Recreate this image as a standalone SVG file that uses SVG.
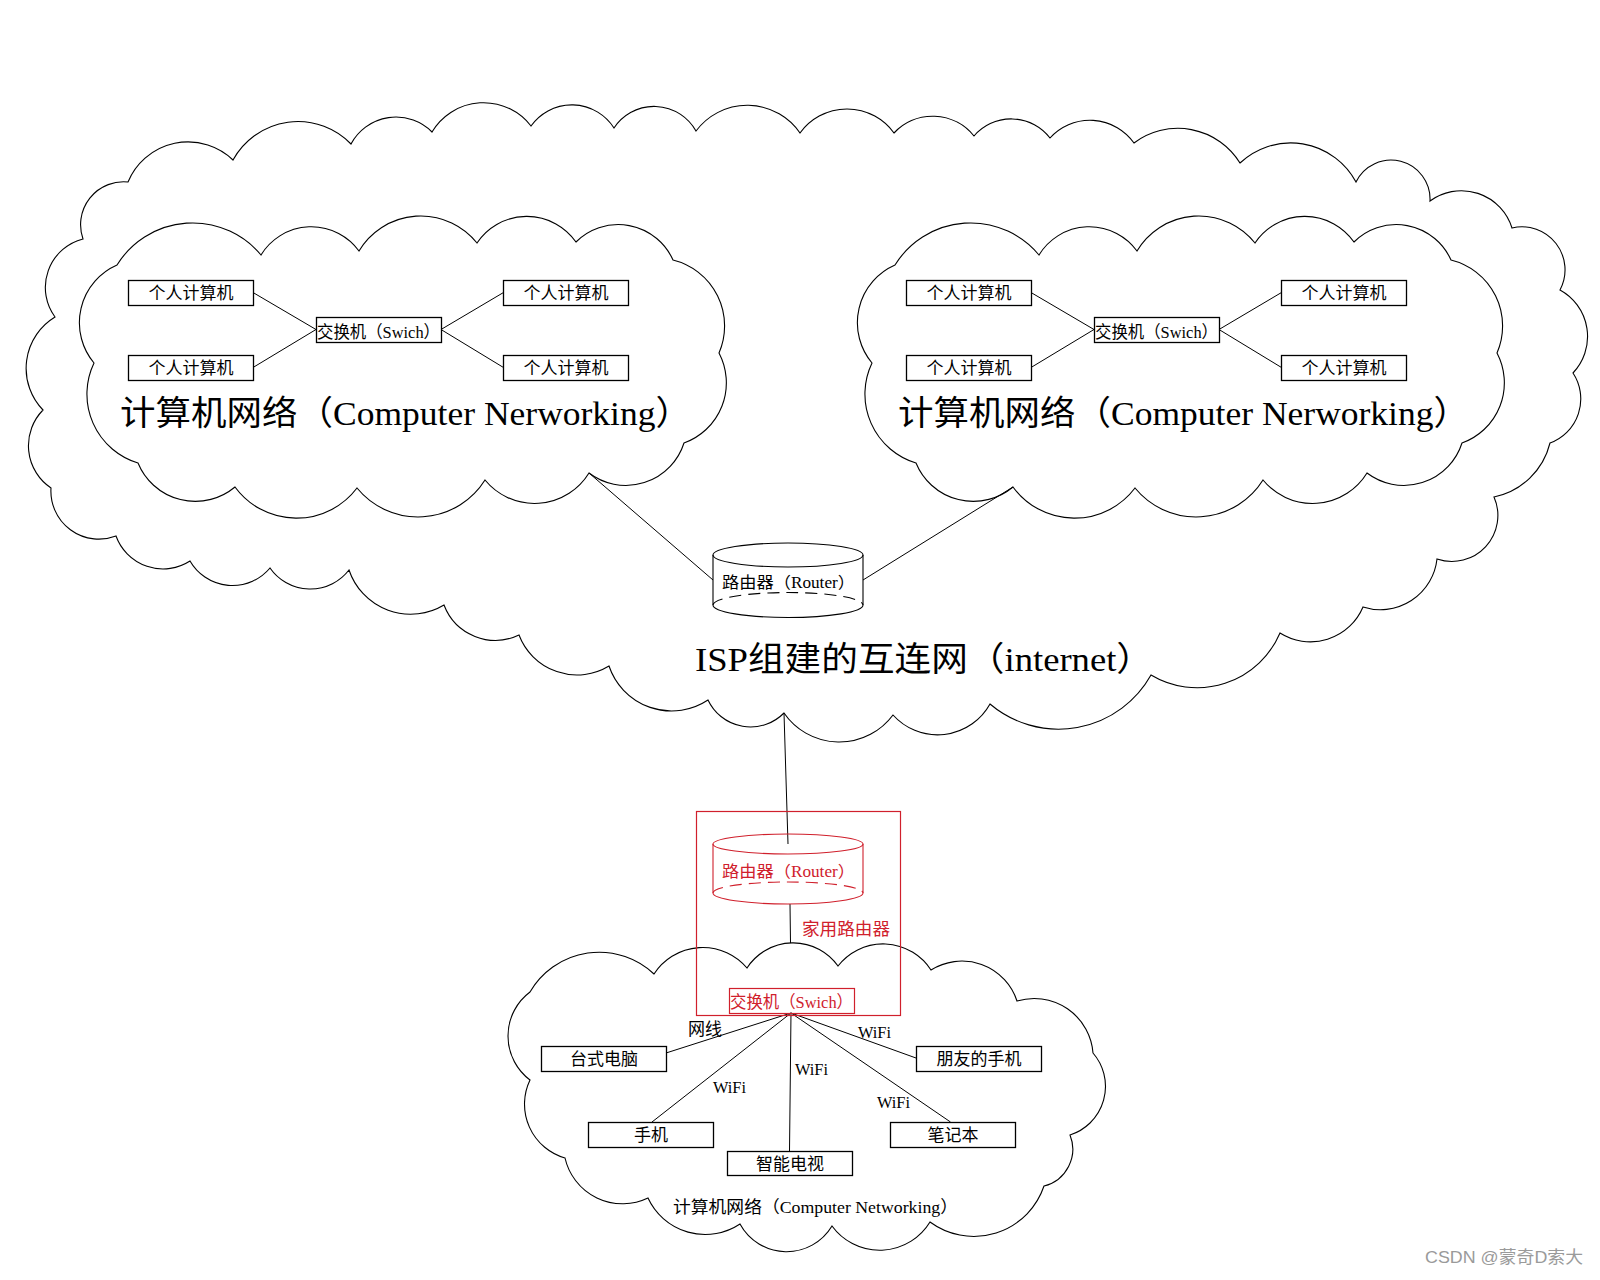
<svg xmlns="http://www.w3.org/2000/svg" width="1600" height="1280" viewBox="0 0 1600 1280">
<style>
.cloud{fill:none;stroke:#000;stroke-width:1.1}
.ln{fill:none;stroke:#000;stroke-width:1}
.box{fill:#fff;stroke:#000;stroke-width:1.3}
.rbox{fill:none;stroke:#d0202c;stroke-width:1.2}
.cyl{fill:none;stroke:#000;stroke-width:1.1}
.rcyl{fill:none;stroke:#d0202c;stroke-width:1.1}
.dash{stroke-dasharray:12 7}
.t{font-family:"Liberation Serif","Noto Sans CJK SC",serif;fill:#000}
.s{font-size:17px;text-anchor:middle}
.big{font-size:34px}
.red{fill:#d0202c}
.wm{font-family:"Liberation Sans","Noto Sans CJK SC",sans-serif;font-size:17px;fill:#9a9a9a}
</style>
<defs>
<path id="lanCloud" d="M117,265 A89,89 0 0 1 261,255 A59,59 0 0 1 359,251 A72,72 0 0 1 477,243 A60,60 0 0 1 576,242 A60,60 0 0 1 673,260 A68,68 0 0 1 719,353 A64,64 0 0 1 684,443 A61,61 0 0 1 589,473 A64,64 0 0 1 485,480 A79,79 0 0 1 357,488 A76,76 0 0 1 235,487 A62,62 0 0 1 138,463 A72,72 0 0 1 94,363 A63,63 0 0 1 117,265 Z"/>
</defs>
<rect width="1600" height="1280" fill="#fff"/>

<g id="isp-cloud">
<path class="cloud" d="M128,182 A65,65 0 0 1 233,160 A74,74 0 0 1 351,144 A51,51 0 0 1 432,132 A60,60 0 0 1 531,126 A50,50 0 0 1 614,128 A48,48 0 0 1 696,131 A64,64 0 0 1 800,133 A58,58 0 0 1 894,133 A53,53 0 0 1 974,136 A49,49 0 0 1 1050,138 A54,54 0 0 1 1134,143 A73,73 0 0 1 1240,163 A74,74 0 0 1 1356,182 A39,39 0 0 1 1430,201 A53,53 0 0 1 1512,228 A43,43 0 0 1 1560,290 A53,53 0 0 1 1573,373 A47,47 0 0 1 1550,443 A73,73 0 0 1 1494,497 A46,46 0 0 1 1437,559 A57,57 0 0 1 1363,607 A57,57 0 0 1 1280,633 A90,90 0 0 1 1151,675 A106,106 0 0 1 990,704 A60,60 0 0 1 893,715 A67,67 0 0 1 784,713 A47,47 0 0 1 708,700 A66,66 0 0 1 609,666 A62,62 0 0 1 519,635 A55,55 0 0 1 444,605 A65,65 0 0 1 349,570 A49,49 0 0 1 270,568 A49,49 0 0 1 190,561 A50,50 0 0 1 116,536 A48,48 0 0 1 51,488 A51,51 0 0 1 43,410 A60,60 0 0 1 55,317 A50,50 0 0 1 83,239 A43,43 0 0 1 128,182 Z"/>
<text class="t big" x="695" y="671" textLength="458" lengthAdjust="spacingAndGlyphs">ISP组建的互连网（internet）</text>
</g>

<g id="lan-left">
<use href="#lanCloud" class="cloud"/>
<text class="t big" x="120" y="425" textLength="571" lengthAdjust="spacingAndGlyphs">计算机网络（Computer Nerworking）</text>
</g>

<g id="lan-right">
<use href="#lanCloud" class="cloud" transform="translate(778,0)"/>
<text class="t big" x="898" y="425" textLength="571" lengthAdjust="spacingAndGlyphs">计算机网络（Computer Nerworking）</text>
</g>

<g id="home-lan">
<path class="cloud" d="M530,992 A80,80 0 0 1 654,974 A58,58 0 0 1 747,968 A55,55 0 0 1 838,966 A57,57 0 0 1 931,970 A58,58 0 0 1 1017,1001 A59,59 0 0 1 1093,1053 A51,51 0 0 1 1070,1135 A38,38 0 0 1 1044,1186 A74,74 0 0 1 930,1222 A59,59 0 0 1 832,1226 A53,53 0 0 1 740,1224 A63,63 0 0 1 648,1198 A59,59 0 0 1 565,1158 A56,56 0 0 1 530,1080 A55,55 0 0 1 530,992 Z"/>
<text class="t" font-size="17" x="673" y="1213" textLength="285" lengthAdjust="spacingAndGlyphs">计算机网络（Computer Networking）</text>
</g>

<g id="connectors">
<line class="ln" x1="253" y1="292.5" x2="316" y2="329.5"/>
<line class="ln" x1="253" y1="367.5" x2="316" y2="329.5"/>
<line class="ln" x1="441" y1="329.5" x2="503.5" y2="292.5"/>
<line class="ln" x1="441" y1="329.5" x2="503.5" y2="367.5"/>
<line class="ln" x1="1031" y1="292.5" x2="1094" y2="329.5"/>
<line class="ln" x1="1031" y1="367.5" x2="1094" y2="329.5"/>
<line class="ln" x1="1219" y1="329.5" x2="1281.5" y2="292.5"/>
<line class="ln" x1="1219" y1="329.5" x2="1281.5" y2="367.5"/>
<line class="ln" x1="589" y1="473" x2="713" y2="580"/>
<line class="ln" x1="863" y1="580" x2="1013" y2="487"/>
<line class="ln" x1="784" y1="713" x2="788" y2="844"/>
<line class="ln" x1="790" y1="904" x2="790.5" y2="943"/>
<line class="ln" x1="791" y1="1013" x2="666" y2="1053"/>
<line class="ln" x1="791" y1="1013" x2="652" y2="1122"/>
<line class="ln" x1="791" y1="1013" x2="789.5" y2="1151"/>
<line class="ln" x1="791" y1="1013" x2="950.5" y2="1122"/>
<line class="ln" x1="791" y1="1013" x2="916" y2="1058"/>
<text class="t" font-size="17" x="688" y="1035" textLength="34" lengthAdjust="spacingAndGlyphs">网线</text>
<text class="t" font-size="16" x="858" y="1038" textLength="33" lengthAdjust="spacingAndGlyphs">WiFi</text>
<text class="t" font-size="16" x="795" y="1075" textLength="33" lengthAdjust="spacingAndGlyphs">WiFi</text>
<text class="t" font-size="16" x="713" y="1093" textLength="33" lengthAdjust="spacingAndGlyphs">WiFi</text>
<text class="t" font-size="16" x="877" y="1108" textLength="33" lengthAdjust="spacingAndGlyphs">WiFi</text>
</g>

<g id="pc-l1"><rect class="box" x="128.5" y="280.5" width="125" height="25"/><text class="t s" x="191" y="299">个人计算机</text></g>
<g id="pc-l2"><rect class="box" x="128.5" y="355.5" width="125" height="25"/><text class="t s" x="191" y="374">个人计算机</text></g>
<g id="pc-l3"><rect class="box" x="503.5" y="280.5" width="125" height="25"/><text class="t s" x="566" y="299">个人计算机</text></g>
<g id="pc-l4"><rect class="box" x="503.5" y="355.5" width="125" height="25"/><text class="t s" x="566" y="374">个人计算机</text></g>
<g id="switch-l"><rect class="box" x="316.5" y="317.5" width="125" height="25"/><text class="t" font-size="17" x="317" y="338" textLength="123" lengthAdjust="spacingAndGlyphs">交换机（Swich）</text></g>

<g id="pc-r1"><rect class="box" x="906.5" y="280.5" width="125" height="25"/><text class="t s" x="969" y="299">个人计算机</text></g>
<g id="pc-r2"><rect class="box" x="906.5" y="355.5" width="125" height="25"/><text class="t s" x="969" y="374">个人计算机</text></g>
<g id="pc-r3"><rect class="box" x="1281.5" y="280.5" width="125" height="25"/><text class="t s" x="1344" y="299">个人计算机</text></g>
<g id="pc-r4"><rect class="box" x="1281.5" y="355.5" width="125" height="25"/><text class="t s" x="1344" y="374">个人计算机</text></g>
<g id="switch-r"><rect class="box" x="1094.5" y="317.5" width="125" height="25"/><text class="t" font-size="17" x="1095" y="338" textLength="123" lengthAdjust="spacingAndGlyphs">交换机（Swich）</text></g>

<g id="isp-router">
<ellipse class="cyl" cx="788" cy="555" rx="75" ry="12"/>
<line class="cyl" x1="713" y1="555" x2="713" y2="605"/>
<line class="cyl" x1="863" y1="555" x2="863" y2="605"/>
<path class="cyl" d="M713,605 A75,12.5 0 0 0 863,605"/>
<path class="cyl dash" d="M713,605 A75,12.5 0 0 1 863,605"/>
<text class="t" font-size="16" x="722" y="588" textLength="133" lengthAdjust="spacingAndGlyphs">路由器（Router）</text>
</g>

<g id="home-router">
<rect class="rbox" x="696.5" y="811.5" width="204" height="204"/>
<ellipse class="rcyl" cx="788" cy="844" rx="75" ry="10"/>
<line class="rcyl" x1="713" y1="844" x2="713" y2="893"/>
<line class="rcyl" x1="863" y1="844" x2="863" y2="893"/>
<path class="rcyl" d="M713,893 A75,11 0 0 0 863,893"/>
<path class="rcyl dash" d="M713,893 A75,11 0 0 1 863,893"/>
<text class="t red" font-size="16" x="722" y="877" textLength="133" lengthAdjust="spacingAndGlyphs">路由器（Router）</text>
<text class="t red" font-size="17" x="802" y="935" textLength="88" lengthAdjust="spacingAndGlyphs">家用路由器</text>
</g>

<g id="home-switch"><rect class="rbox" x="729.5" y="988.5" width="125" height="25"/><text class="t red" font-size="17" x="730" y="1008" textLength="123" lengthAdjust="spacingAndGlyphs">交换机（Swich）</text></g>
<g id="desktop"><rect class="box" x="541.5" y="1046.5" width="125" height="25"/><text class="t s" x="604" y="1065">台式电脑</text></g>
<g id="phone"><rect class="box" x="588.5" y="1122.5" width="125" height="25"/><text class="t s" x="651" y="1141">手机</text></g>
<g id="tv"><rect class="box" x="727.5" y="1151.5" width="125" height="24"/><text class="t s" x="790" y="1170">智能电视</text></g>
<g id="laptop"><rect class="box" x="890.5" y="1122.5" width="125" height="25"/><text class="t s" x="953" y="1141">笔记本</text></g>
<g id="friend-phone"><rect class="box" x="916.5" y="1046.5" width="125" height="25"/><text class="t s" x="979" y="1065">朋友的手机</text></g>

<text class="wm" x="1425" y="1263" textLength="158" lengthAdjust="spacingAndGlyphs">CSDN @蒙奇D索大</text>
</svg>
